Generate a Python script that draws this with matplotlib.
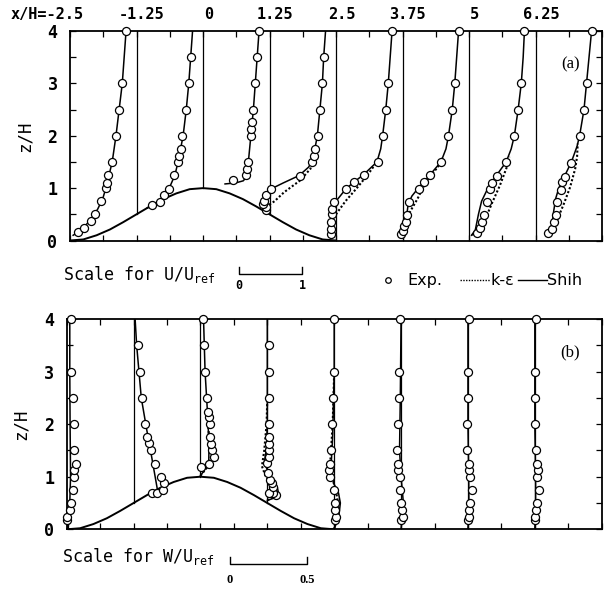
"""Mean velocity profiles over a 2-D hill: U (a) and W (b)."""
import matplotlib
matplotlib.use("Agg")
import matplotlib.pyplot as plt
import numpy as np
from matplotlib.lines import Line2D

# ---------------------------------------------------------------- data
stations = [-2.5, -1.25, 0.0, 1.25, 2.5, 3.75, 5.0, 6.25]
station_labels = ["x/H=-2.5", "-1.25", "0", "1.25", "2.5", "3.75", "5", "6.25"]

hill_x = [-2.5, -2.25, -2.0, -1.75, -1.5, -1.25, -1.0, -0.75, -0.5, -0.25, 0.0,
          0.25, 0.5, 0.75, 1.0, 1.25, 1.5, 1.75, 2.0, 2.25, 2.5]
hill_z = [0.0, 0.02, 0.1, 0.21, 0.35, 0.5, 0.65, 0.79, 0.9, 0.98, 1.0,
          0.98, 0.9, 0.79, 0.65, 0.5, 0.35, 0.21, 0.1, 0.02, 0.0]

# (a) streamwise velocity U/Uref
u_exp_z = [
    [0.17, 0.24, 0.37, 0.5, 0.75, 1.0, 1.1, 1.25, 1.5, 2.0, 2.5, 3.0, 4.0],
    [0.67, 0.73, 0.87, 0.98, 1.26, 1.5, 1.62, 1.75, 2.0, 2.5, 3.0, 3.5],
    [1.16, 1.26, 1.37, 1.5, 2.0, 2.12, 2.26, 2.5, 3.0, 3.5, 4.0],
    [0.58, 0.64, 0.70, 0.76, 0.86, 0.99, 1.24, 1.5, 1.62, 1.75, 2.0, 2.5, 3.0, 3.5],
    [0.12, 0.22, 0.35, 0.5, 0.6, 0.73, 0.99, 1.12, 1.26, 1.5, 2.0, 2.5, 3.0, 4.0],
    [0.13, 0.19, 0.27, 0.35, 0.48, 0.73, 0.99, 1.12, 1.26, 1.49, 2.0, 2.5, 3.0, 4.0],
    [0.14, 0.24, 0.35, 0.48, 0.73, 0.99, 1.10, 1.24, 1.5, 2.0, 2.5, 3.0, 4.0],
    [0.14, 0.22, 0.35, 0.48, 0.73, 0.97, 1.12, 1.22, 1.48, 2.0, 2.5, 3.0, 4.0],
]
u_exp = [
    [0.12, 0.23, 0.33, 0.40, 0.50, 0.57, 0.59, 0.61, 0.67, 0.73, 0.78, 0.83, 0.89],
    [0.25, 0.37, 0.44, 0.52, 0.60, 0.66, 0.68, 0.71, 0.73, 0.79, 0.83, 0.86],
    [0.48, 0.68, 0.70, 0.72, 0.76, 0.76, 0.78, 0.80, 0.83, 0.86, 0.89],
    [-0.05, -0.05, -0.10, -0.08, -0.06, 0.02, 0.49, 0.68, 0.70, 0.72, 0.77, 0.80, 0.84, 0.86],
    [-0.08, -0.08, -0.08, -0.07, -0.06, -0.03, 0.16, 0.29, 0.44, 0.66, 0.74, 0.79, 0.83, 0.89],
    [-0.03, 0.0, 0.03, 0.05, 0.07, 0.10, 0.26, 0.34, 0.44, 0.61, 0.73, 0.79, 0.83, 0.89],
    [0.12, 0.17, 0.21, 0.24, 0.28, 0.33, 0.37, 0.45, 0.59, 0.72, 0.78, 0.83, 0.88],
    [0.20, 0.26, 0.29, 0.33, 0.34, 0.40, 0.42, 0.47, 0.57, 0.71, 0.77, 0.81, 0.89],
]
u_shih_z = [
    [0.1, 0.2, 0.4, 0.6, 0.8, 1.0, 1.25, 1.5, 2.0, 2.5, 3.0, 3.5, 4.0],
    [0.62, 0.75, 0.9, 1.0, 1.25, 1.5, 2.0, 2.5, 3.0, 3.5, 4.0],
    [1.08, 1.1, 1.14, 1.2, 1.35, 1.5, 2.0, 2.5, 3.0, 3.5, 4.0],
    [0.6, 0.8, 0.95, 1.0, 1.1, 1.24, 1.4, 1.5, 1.75, 2.0, 2.5, 3.0, 3.5, 4.0],
    [0.72, 0.75, 0.99, 1.12, 1.26, 1.5, 1.75, 2.0, 2.5, 3.0, 3.5, 4.0],
    [0.1, 0.3, 0.5, 0.7, 0.85, 1.0, 1.12, 1.26, 1.5, 1.75, 2.0, 2.5, 3.0, 3.5, 4.0],
    [0.1, 0.2, 0.5, 0.75, 1.0, 1.2, 1.5, 1.75, 2.0, 2.5, 3.0, 3.5, 4.0],
    [0.1, 0.3, 0.57, 0.8, 1.0, 1.25, 1.5, 1.8, 2.0, 2.5, 3.0, 3.5, 4.0],
]
u_shih = [
    [0.05, 0.18, 0.33, 0.44, 0.52, 0.57, 0.62, 0.67, 0.73, 0.78, 0.83, 0.86, 0.89],
    [0.17, 0.36, 0.46, 0.52, 0.61, 0.66, 0.74, 0.79, 0.83, 0.86, 0.89],
    [0.35, 0.52, 0.64, 0.68, 0.70, 0.72, 0.76, 0.80, 0.83, 0.86, 0.89],
    [-0.08, -0.06, 0.0, 0.05, 0.22, 0.47, 0.62, 0.67, 0.72, 0.76, 0.80, 0.84, 0.86, 0.89],
    [-0.02, 0.0, 0.16, 0.29, 0.44, 0.65, 0.71, 0.74, 0.79, 0.83, 0.86, 0.89],
    [0.0, 0.04, 0.07, 0.09, 0.15, 0.25, 0.34, 0.44, 0.61, 0.69, 0.73, 0.79, 0.83, 0.86, 0.89],
    [0.04, 0.10, 0.15, 0.20, 0.30, 0.41, 0.59, 0.67, 0.72, 0.78, 0.83, 0.86, 0.88],
    [0.18, 0.26, 0.29, 0.32, 0.37, 0.47, 0.57, 0.66, 0.70, 0.77, 0.81, 0.85, 0.89],
]
u_ke_z = [None, None, None,
          [0.64, 0.75, 0.92, 1.15, 1.37, 1.5],
          [0.5, 0.75, 1.0, 1.25, 1.5],
          [0.15, 0.35, 0.55, 0.8, 1.0, 1.2, 1.4, 1.6],
          [0.1, 0.38, 0.7, 1.05, 1.4, 1.6],
          [0.12, 0.38, 0.7, 1.02, 1.37, 1.6, 1.85]]
u_ke = [None, None, None,
        [-0.06, 0.08, 0.23, 0.49, 0.65, 0.68],
        [0.0, 0.15, 0.33, 0.50, 0.65],
        [0.0, 0.06, 0.12, 0.24, 0.32, 0.42, 0.56, 0.65],
        [0.05, 0.25, 0.36, 0.49, 0.60, 0.64],
        [0.20, 0.34, 0.45, 0.55, 0.63, 0.66, 0.67]]

# (b) vertical velocity W/Uref
w_exp_z = [
    [0.17, 0.24, 0.37, 0.5, 0.75, 1.0, 1.12, 1.25, 1.5, 2.0, 2.5, 3.0, 4.0],
    [0.69, 0.69, 0.75, 0.88, 1.0, 1.24, 1.5, 1.64, 1.75, 2.0, 2.49, 3.0, 3.5],
    [1.19, 1.24, 1.38, 1.5, 1.62, 1.76, 2.0, 2.13, 2.24, 2.49, 3.0, 3.5, 4.0],
    [0.65, 0.69, 0.69, 0.81, 0.88, 0.94, 1.07, 1.26, 1.38, 1.5, 1.63, 1.75, 2.0, 2.5, 3.0, 3.5],
    [0.18, 0.24, 0.37, 0.5, 0.75, 1.0, 1.13, 1.25, 1.5, 2.0, 2.5, 3.0, 4.0],
    [0.18, 0.24, 0.37, 0.5, 0.75, 1.0, 1.13, 1.25, 1.5, 2.0, 2.5, 3.0, 4.0],
    [0.18, 0.24, 0.37, 0.5, 0.75, 1.0, 1.13, 1.25, 1.5, 2.0, 2.5, 3.0, 4.0],
    [0.17, 0.24, 0.37, 0.5, 0.75, 1.0, 1.13, 1.25, 1.5, 2.0, 2.5, 3.0, 4.0],
]
w_exp = [
    [0.0, 0.0, 0.02, 0.03, 0.04, 0.05, 0.05, 0.06, 0.05, 0.05, 0.04, 0.03, 0.025],
    [0.12, 0.15, 0.19, 0.195, 0.18, 0.14, 0.11, 0.10, 0.09, 0.076, 0.054, 0.04, 0.026],
    [0.006, 0.054, 0.086, 0.076, 0.07, 0.065, 0.06, 0.054, 0.05, 0.043, 0.032, 0.026, 0.018],
    [0.054, 0.04, 0.01, 0.04, 0.03, 0.02, 0.006, 0.0, 0.01, 0.01, 0.01, 0.008, 0.008, 0.008, 0.008, 0.008],
    [0.006, 0.01, 0.006, 0.003, -0.004, -0.03, -0.033, -0.03, -0.02, -0.015, -0.008, 0.0, 0.0],
    [0.0, 0.01, 0.005, 0.0, -0.004, -0.01, -0.017, -0.02, -0.026, -0.017, -0.015, -0.015, -0.004],
    [0.0, 0.006, 0.008, 0.015, 0.024, 0.015, 0.01, 0.006, -0.004, -0.004, 0.0, 0.0, 0.005],
    [0.0, 0.0, 0.01, 0.015, 0.026, 0.017, 0.02, 0.015, 0.01, 0.0, 0.0, 0.0, 0.006],
]
w_shih_z = [
    [0.0, 0.5, 1.0, 2.0, 3.0, 4.0],
    [0.68, 0.75, 1.0, 1.5, 1.9, 2.5, 3.0, 3.5, 4.0],
    [1.02, 1.1, 1.2, 1.32, 1.5, 2.0, 2.5, 3.0, 3.5, 4.0],
    [0.55, 0.6, 0.65, 0.8, 0.95, 1.07, 1.26, 1.56, 2.05, 3.0, 4.0],
    [0.0, 0.25, 0.5, 0.69, 0.88, 1.2, 1.77, 3.0, 4.0],
    [0.0, 0.5, 1.0, 1.5, 2.5, 4.0],
    [0.0, 0.5, 1.0, 2.0, 4.0],
    [0.0, 0.5, 1.0, 2.0, 4.0],
]
w_shih = [
    [0.01, 0.02, 0.025, 0.022, 0.02, 0.02],
    [0.14, 0.155, 0.14, 0.11, 0.085, 0.05, 0.035, 0.02, 0.01],
    [0.0, 0.02, 0.04, 0.054, 0.055, 0.05, 0.04, 0.03, 0.025, 0.02],
    [0.0, 0.05, 0.075, 0.065, 0.03, 0.01, -0.02, -0.005, 0.0, 0.0, 0.0],
    [0.0, 0.03, 0.04, 0.028, -0.004, -0.02, -0.01, 0.0, 0.0],
    [0.0, 0.015, 0.0, -0.01, -0.005, 0.0],
    [0.0, 0.006, 0.005, 0.0, 0.0],
    [0.0, 0.005, 0.005, 0.0, 0.0],
]
w_ke_z = [None, None,
          [1.02, 1.2, 1.4, 1.6, 2.0],
          [0.55, 0.65, 0.8, 1.0, 1.2, 1.5, 2.0, 2.5],
          [0.0, 0.5, 0.75, 1.0, 1.3, 2.0, 3.0],
          None, None, None]
w_ke = [None, None,
        [0.0, 0.05, 0.07, 0.06, 0.05],
        [0.0, 0.06, 0.05, -0.01, -0.035, -0.02, -0.005, 0.0],
        [0.0, 0.025, 0.01, -0.015, -0.025, -0.01, 0.0],
        None, None, None]

# how many x/H one unit of velocity spans on the plot (from the scale bars)
U_SCALE = 1.184
W_SCALE = 2.88

MONO = "DejaVu Sans Mono"


def draw_panel(ax, exp_z, exp_v, shih_z, shih_v, ke_z, ke_v, scale, tag):
    ax.plot(hill_x, hill_z, color="black", lw=1.4, zorder=2)
    for i, xs in enumerate(stations):
        z0 = np.interp(xs, hill_x, hill_z)
        if i > 0:
            ax.plot([xs, xs], [z0, 4.0], color="black", lw=0.9, zorder=1)
        if ke_z[i] is not None:
            ax.plot(xs + scale * np.asarray(ke_v[i]), ke_z[i], color="black",
                    lw=1.5, linestyle=(0, (1, 1)), zorder=3)
        ax.plot(xs + scale * np.asarray(shih_v[i]), shih_z[i], color="black",
                lw=1.1, zorder=4)
        ax.plot(xs + scale * np.asarray(exp_v[i]), exp_z[i], linestyle="none",
                marker="o", ms=5.8, mfc="white", mec="black", mew=0.9,
                zorder=5, clip_on=False)

    ax.set_xlim(-2.5, 7.5)
    ax.set_ylim(0, 4)
    ax.set_xticks(np.arange(-2.5, 7.51, 0.625))
    ax.set_xticklabels([])
    ax.set_yticks(np.arange(0, 4.01, 0.5))
    ax.set_yticklabels(["0", "", "1", "", "2", "", "3", "", "4"])
    ax.tick_params(direction="in", length=4, width=0.9, top=True, right=True,
                   labelsize=12, pad=9)
    for lab in ax.get_yticklabels():
        lab.set_family(MONO)
        lab.set_weight("bold")
    for sp in ax.spines.values():
        sp.set_linewidth(1.3)
    ax.text(-0.085, 0.5, "z/H", transform=ax.transAxes, rotation=90,
            ha="center", va="center", fontsize=12.5, family=MONO)
    ax.text(0.94, 0.84, tag, transform=ax.transAxes, ha="center",
            va="center", fontsize=12, family="Liberation Serif")


fig = plt.figure(figsize=(6.12, 5.90), dpi=100)
ax_u = fig.add_axes([70 / 612, 1 - 240.5 / 590, 532 / 612, 209.5 / 590])
ax_w = fig.add_axes([66.7 / 612, 1 - 529.3 / 590, 535 / 612, 210.3 / 590])

draw_panel(ax_u, u_exp_z, u_exp, u_shih_z, u_shih, u_ke_z, u_ke, U_SCALE, "(a)")
draw_panel(ax_w, w_exp_z, w_exp, w_shih_z, w_shih, w_ke_z, w_ke, W_SCALE, "(b)")

# station labels along the top of (a)
for xs, lab in zip(stations, station_labels):
    ha = "right" if lab.startswith("x/H") else "center"
    xt = xs + 0.25 if ha == "right" else xs + 0.1
    ax_u.text(xt, 4.31, lab, ha=ha, va="center", fontsize=11, family=MONO,
              weight="bold", clip_on=False)

# scale bars
x0 = 0.68
ax_u.plot([x0, x0, x0 + U_SCALE, x0 + U_SCALE], [-0.51, -0.64, -0.64, -0.51],
          color="black", lw=1.0, clip_on=False)
ax_u.text(x0, -0.86, "0", ha="center", va="center", fontsize=8.5,
          family=MONO, weight="bold", clip_on=False)
ax_u.text(x0 + U_SCALE, -0.86, "1", ha="center", va="center", fontsize=8.5,
          family=MONO, weight="bold", clip_on=False)
fig.text(63 / 612, 1 - 280 / 590, r"Scale for U/U$_\mathregular{ref}$",
         ha="left", va="baseline", fontsize=12, family=MONO)

x0 = 0.55
ax_w.plot([x0, x0, x0 + 0.5 * W_SCALE, x0 + 0.5 * W_SCALE],
          [-0.53, -0.66, -0.66, -0.53], color="black", lw=1.0, clip_on=False)
ax_w.text(x0, -0.96, "0", ha="center", va="center", fontsize=9,
          family="Liberation Serif", weight="bold", clip_on=False)
ax_w.text(x0 + 0.5 * W_SCALE, -0.96, "0.5", ha="center", va="center",
          fontsize=9, family="Liberation Serif", weight="bold", clip_on=False)
fig.text(62 / 612, 1 - 562 / 590, r"Scale for W/U$_\mathregular{ref}$",
         ha="left", va="baseline", fontsize=12, family=MONO)

# key
ky = 1 - 280 / 590
fig.add_artist(Line2D([388 / 612], [ky], marker="o", ms=4, mfc="white",
                      mec="black", mew=0.9, linestyle="none"))
fig.text(407 / 612, ky, "Exp.", ha="left", va="center", fontsize=11.5)
fig.add_artist(Line2D([460 / 612, 490 / 612], [ky, ky], color="black", lw=1.0,
                      linestyle=(0, (1, 1))))
fig.text(490 / 612, ky, "k-ε", ha="left", va="center", fontsize=11.5)
fig.add_artist(Line2D([518 / 612, 547 / 612], [ky, ky], color="black", lw=1.0))
fig.text(547 / 612, ky, "Shih", ha="left", va="center", fontsize=11.5)

fig.savefig("out.png", dpi=100)
